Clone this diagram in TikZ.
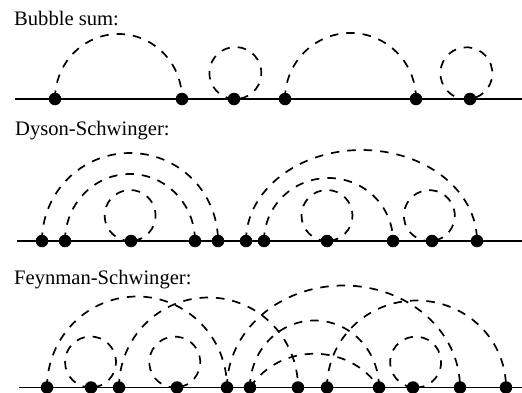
\documentclass[tikz,border=0pt]{standalone}
\usepackage{fontspec}
\setmainfont{Liberation Serif}
\usetikzlibrary{arrows.meta,positioning,calc}

\begin{document}
\begin{tikzpicture}[x=1pt,y=-1pt,
  vertex/.style={circle,fill=black,inner sep=0pt,minimum size=12.5pt},
  title/.style={anchor=base west,inner sep=0pt,font=\fontsize{20.6pt}{24pt}\selectfont},
  fermion/.style={line width=1.7pt},
  boson/.style={dash pattern=on 8.5pt off 8pt,line width=1.7pt}]
  \useasboundingbox (0,0) rectangle (522,392);
  \node[title] (bubble) at (14,25) {Bubble sum:};
  \node[title] (dyson) at (15,135) {Dyson-Schwinger:};
  \node[title] (feynman) at (14,284) {Feynman-Schwinger:};
  % bubble sum
  \coordinate (bstart) at (15,99);
  \coordinate (bend) at (522,99);
  \draw[fermion] (bstart) -- (bend);
  \foreach \name/\x in {ba/55,bb/182,bc/234,bd/285,be/416,bf/470}
    \node[vertex] (\name) at (\x,99) {};
  \draw[boson] (ba.center) arc[start angle=180,end angle=0,x radius=63.5,y radius=-65];
  \draw[boson] (bd.center) arc[start angle=180,end angle=0,x radius=65.5,y radius=-66];
  \draw[boson] (bc.center) arc[start angle=93,end angle=453,radius=26];
  \draw[boson] (bf.center) arc[start angle=82,end angle=442,radius=26];
  % dyson-schwinger
  \coordinate (dstart) at (17,241);
  \coordinate (dend) at (522,241);
  \draw[fermion] (dstart) -- (dend);
  \foreach \name/\x in {da/42,db/65,dc/131,dd/195,de/218,df/246,dg/264,dh/327,di/393,dj/432,dk/477}
    \node[vertex] (\name) at (\x,241) {};
  \draw[boson] (da.center) arc[start angle=180,end angle=0,x radius=88,y radius=-88];
  \draw[boson] (db.center) arc[start angle=180,end angle=0,x radius=65,y radius=-67];
  \draw[boson] (df.center) arc[start angle=180,end angle=0,x radius=115.5,y radius=-91];
  \draw[boson] (dg.center) arc[start angle=180,end angle=0,x radius=64.5,y radius=-63];
  \draw[boson] (dc.center) arc[start angle=88,end angle=448,radius=25.5];
  \draw[boson] (dh.center) arc[start angle=90,end angle=450,radius=25.5];
  \draw[boson] (dj.center) arc[start angle=84,end angle=444,radius=25.5];
  % feynman-schwinger
  \coordinate (fstart) at (19,387.5);
  \coordinate (fend) at (522,387.5);
  \draw[fermion] (fstart) -- (fend);
  \foreach \name/\x in {fa/47,fb/91,fc/119,fd/177,fe/227,ff/250,fg/298,fh/327,fi/379,fj/413,fk/460,fl/506}
    \node[vertex] (\name) at (\x,387.5) {};
  \draw[boson] (fa.center) arc[start angle=180,end angle=0,x radius=90,y radius=-91];
  \draw[boson] (fc.center) arc[start angle=180,end angle=0,x radius=89.5,y radius=-90];
  \draw[boson] (fe.center) arc[start angle=180,end angle=0,x radius=116.5,y radius=-102];
  \draw[boson] (ff.center) arc[start angle=180,end angle=0,x radius=64.5,y radius=-67];
  \draw[boson] (fh.center) arc[start angle=180,end angle=0,x radius=89.5,y radius=-87];
  \draw[boson] (ff.center) .. controls +(30,-45) and +(-30,-45) .. (fi.center);
  \draw[boson] (fb.center) arc[start angle=89,end angle=449,radius=25.5];
  \draw[boson] (fd.center) arc[start angle=85,end angle=445,radius=25.5];
  \draw[boson] (fj.center) arc[start angle=96,end angle=456,radius=25.5];
\end{tikzpicture}
\end{document}
